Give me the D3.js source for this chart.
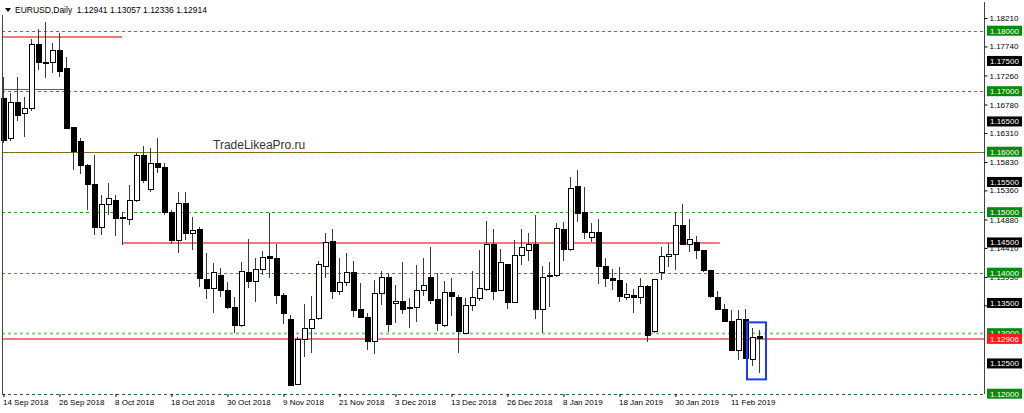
<!DOCTYPE html>
<html>
<head>
<meta charset="utf-8">
<script src="https://cdn.jsdelivr.net/npm/d3@7"></script>
<style>
  html, body { margin: 0; padding: 0; background: #fff; }
  svg { display: block; }
  text { font-family: "Liberation Sans", Arial, sans-serif; }
</style>
</head>
<body>
<svg id="chart" width="1024" height="413"></svg>
<script>
// EURUSD daily bars, 14 Sep 2018 .. 15 Feb 2019
var opens = [
  1.1688, 1.1622, 1.1682, 1.1663, 1.1671, 1.1778, 1.1748, 1.1748, 1.1767, 1.1737,
  1.1640, 1.1617, 1.1578, 1.1546, 1.1475, 1.1513, 1.1520, 1.1490, 1.1488, 1.1519,
  1.1593, 1.1538, 1.1580, 1.1574, 1.1499, 1.1453, 1.1515, 1.1464, 1.1471, 1.1389,
  1.1374, 1.1396, 1.1371, 1.1343, 1.1312, 1.1400, 1.1385, 1.1406, 1.1427, 1.1424,
  1.1362, 1.1323, 1.1216, 1.1289, 1.1308, 1.1325, 1.1411, 1.1451, 1.1369, 1.1383,
  1.1400, 1.1340, 1.1326, 1.1286, 1.1365, 1.1392, 1.1349, 1.1353, 1.1342, 1.1342,
  1.1370, 1.1392, 1.1356, 1.1312, 1.1367, 1.1359, 1.1300, 1.1345, 1.1358, 1.1373,
  1.1446, 1.1370, 1.1413, 1.1351, 1.1428, 1.1436, 1.1446, 1.1340, 1.1393, 1.1395,
  1.1472, 1.1439, 1.1542, 1.1499, 1.1458, 1.1467, 1.1411, 1.1390, 1.1387, 1.1359,
  1.1363, 1.1359, 1.1378, 1.1302, 1.1400, 1.1426, 1.1430, 1.1478, 1.1446, 1.1450,
  1.1436, 1.1403, 1.1359, 1.1340, 1.1320, 1.1272, 1.1322, 1.1257, 1.12941
];
var highs = [
  1.1724, 1.1697, 1.1724, 1.1691, 1.1786, 1.1803, 1.1815, 1.1780, 1.1796, 1.1757,
  1.1641, 1.1623, 1.1580, 1.1595, 1.1528, 1.1548, 1.1528, 1.1501, 1.1545, 1.1598,
  1.1609, 1.1606, 1.1622, 1.1581, 1.1504, 1.1534, 1.1534, 1.1492, 1.1475, 1.1433,
  1.1416, 1.1407, 1.1385, 1.1360, 1.1418, 1.1455, 1.1424, 1.1436, 1.1499, 1.1447,
  1.1367, 1.1330, 1.1293, 1.1348, 1.1362, 1.1419, 1.1465, 1.1472, 1.1424, 1.1433,
  1.1420, 1.1383, 1.1334, 1.1388, 1.1402, 1.1400, 1.1380, 1.1418, 1.1359, 1.1413,
  1.1424, 1.1442, 1.1399, 1.1387, 1.1392, 1.1363, 1.1358, 1.1402, 1.1438, 1.1486,
  1.1473, 1.1439, 1.1415, 1.1454, 1.1472, 1.1465, 1.1495, 1.1411, 1.1418, 1.1482,
  1.1484, 1.1559, 1.1570, 1.1541, 1.1482, 1.1488, 1.1424, 1.1406, 1.1409, 1.1383,
  1.1373, 1.1392, 1.1380, 1.1390, 1.1443, 1.1449, 1.1501, 1.1513, 1.1489, 1.1460,
  1.1437, 1.1404, 1.1369, 1.1349, 1.1338, 1.1338, 1.1340, 1.1308, 1.13057
];
var lows = [
  1.1615, 1.1617, 1.1650, 1.1625, 1.1668, 1.1735, 1.1722, 1.1730, 1.1724, 1.1637,
  1.1569, 1.1563, 1.1504, 1.1462, 1.1462, 1.1495, 1.1460, 1.1446, 1.1479, 1.1517,
  1.1548, 1.1534, 1.1565, 1.1495, 1.1447, 1.1432, 1.1454, 1.1438, 1.1377, 1.1356,
  1.1334, 1.1360, 1.1340, 1.1300, 1.1311, 1.1374, 1.1352, 1.1396, 1.1392, 1.1349,
  1.1315, 1.1213, 1.1214, 1.1261, 1.1268, 1.1322, 1.1392, 1.1356, 1.1363, 1.1378,
  1.1326, 1.1325, 1.1273, 1.1266, 1.1347, 1.1302, 1.1317, 1.1331, 1.1308, 1.1319,
  1.1362, 1.1349, 1.1304, 1.1311, 1.1328, 1.1268, 1.1299, 1.1336, 1.1354, 1.1370,
  1.1355, 1.1369, 1.1340, 1.1350, 1.1413, 1.1420, 1.1323, 1.1301, 1.1343, 1.1393,
  1.1420, 1.1436, 1.1483, 1.1455, 1.1450, 1.1381, 1.1377, 1.1371, 1.1352, 1.1355,
  1.1334, 1.1349, 1.1286, 1.1300, 1.1388, 1.1410, 1.1404, 1.1446, 1.1434, 1.1423,
  1.1401, 1.1359, 1.1338, 1.1319, 1.1271, 1.1256, 1.1257, 1.1246, 1.12336
];
var closes = [
  1.1619, 1.1682, 1.1660, 1.1672, 1.1778, 1.1748, 1.1745, 1.1767, 1.1733, 1.1639,
  1.1600, 1.1577, 1.1545, 1.1475, 1.1513, 1.1522, 1.1489, 1.1491, 1.1520, 1.1593,
  1.1553, 1.1580, 1.1574, 1.1499, 1.1453, 1.1514, 1.1464, 1.1469, 1.1391, 1.1374,
  1.1400, 1.1371, 1.1343, 1.1312, 1.1402, 1.1385, 1.1406, 1.1425, 1.1424, 1.1362,
  1.1333, 1.1214, 1.1289, 1.1308, 1.1323, 1.1413, 1.1450, 1.1369, 1.1383, 1.1400,
  1.1337, 1.1326, 1.1286, 1.1366, 1.1392, 1.1315, 1.1353, 1.1340, 1.1341, 1.1371,
  1.1379, 1.1354, 1.1316, 1.1368, 1.1360, 1.1302, 1.1345, 1.1359, 1.1374, 1.1446,
  1.1369, 1.1417, 1.1350, 1.1428, 1.1442, 1.1446, 1.1340, 1.1392, 1.1395, 1.1473,
  1.1439, 1.1540, 1.1498, 1.1466, 1.1467, 1.1411, 1.1390, 1.1387, 1.1360, 1.1364,
  1.1359, 1.1378, 1.1296, 1.1388, 1.1426, 1.1430, 1.1478, 1.1447, 1.1455, 1.1436,
  1.1404, 1.1360, 1.1340, 1.1320, 1.1272, 1.1323, 1.1259, 1.1293, 1.12914
];

// time axis labels, one every 8 bars
var dateLabels = [
  '14 Sep 2018', '26 Sep 2018', '8 Oct 2018', '18 Oct 2018', '30 Oct 2018',
  '9 Nov 2018', '21 Nov 2018', '3 Dec 2018', '13 Dec 2018', '26 Dec 2018',
  '8 Jan 2019', '18 Jan 2019', '30 Jan 2019', '11 Feb 2019'
];
var labelStep = 8;

// price scale ticks (the ones hidden under the tags are left out)
var priceTicks = [1.18210, 1.17740, 1.17260, 1.16780, 1.16310, 1.15830, 1.15360,
  1.14880, 1.14410, 1.13930, 1.13460];
var gridLevels = [1.18, 1.17, 1.16, 1.15, 1.14, 1.13, 1.12];
var blackLevels = [1.175, 1.165, 1.155, 1.145, 1.135, 1.125];
var bidLevel = 1.12906;

// hand drawn red levels: price, first bar, last bar (null = whole width)
var levelPrices = [1.1789, 1.1704, 1.1600, 1.1449, 1.12906];
var levelFrom   = [0, 0, null, 17, null];
var levelTo     = [17, 9, null, 102.4, null];

var titleText = 'EURUSD,Daily  1.12941 1.13057 1.12336 1.12914';
var watermark = 'TradeLikeaPro.ru';

var left = 2, right = 984, bottom = 394;
var svg = d3.select('#chart');

var x = d3.scaleLinear().domain([0, 108]).range([3, 759]);
var y = d3.scaleLinear().domain([1.12, 1.18]).range([393.7, 30.7]);

var bars = opens.map(function (o, i) {
    return { i: i, o: o, h: highs[i], l: lows[i], c: closes[i] };
});

var plot = svg.append('g');

// grid levels (green dashed)
plot.selectAll('.grid').data(gridLevels).enter().append('line')
    .attr('class', 'grid')
    .attr('x1', left).attr('x2', right)
    .attr('y1', function (d) { return Math.round(y(d)) + 0.5; })
    .attr('y2', function (d) { return Math.round(y(d)) + 0.5; })
    .attr('stroke', function (d) {
        if (d === 1.13) return '#86cc86';
        if (d === 1.12) return '#1f6b1f';
        return '#10b010';
    })
    .attr('stroke-width', function (d) { return d === 1.13 ? 2 : 1; })
    .attr('stroke-dasharray', '3,3');

// red levels
levelPrices.forEach(function (p, k) {
    var x1 = levelFrom[k] === null ? left : x(levelFrom[k]);
    var x2 = levelTo[k] === null ? right : x(levelTo[k]);
    var wide = (k === 0 || k === 3 || k === 4);
    var yy = Math.round(y(p)) + (wide ? 0 : 0.5);
    plot.append('line')
        .attr('x1', x1).attr('x2', x2)
        .attr('y1', yy).attr('y2', yy)
        .attr('stroke', wide ? '#f07a7a' : '#ff2020')
        .attr('stroke-width', wide ? 2 : 1);
});
// the 1.16 level carries the green dashes over the red line
plot.append('line')
    .attr('x1', left).attr('x2', right)
    .attr('y1', Math.round(y(1.16)) + 0.5).attr('y2', Math.round(y(1.16)) + 0.5)
    .attr('stroke', '#10b010').attr('stroke-dasharray', '3,3');

// watermark
svg.append('text')
    .attr('x', 213).attr('y', 148.5)
    .attr('font-family', '"Open Sans", sans-serif')
    .attr('font-size', 12)
    .attr('fill', '#333')
    .text(watermark);

// candles
var candle = plot.selectAll('.bar').data(bars).enter().append('g')
    .attr('class', 'bar')
    .attr('shape-rendering', 'crispEdges');

candle.append('line')
    .attr('x1', function (d) { return x(d.i) + 0.5; })
    .attr('x2', function (d) { return x(d.i) + 0.5; })
    .attr('y1', function (d) { return y(d.h); })
    .attr('y2', function (d) { return y(d.l); })
    .attr('stroke', '#3a3a3a');

candle.append('rect')
    .attr('x', function (d) { return x(d.i) - 2; })
    .attr('width', 5)
    .attr('y', function (d) { return y(Math.max(d.o, d.c)); })
    .attr('height', function (d) { return Math.max(1, Math.abs(y(d.o) - y(d.c))); })
    .attr('fill', function (d) { return d.c >= d.o ? '#fff' : '#000'; })
    .attr('stroke', '#000')
    .attr('stroke-width', 1);

// current bar highlight box
var last = bars.slice(-2);
var boxTop = y(d3.max(last, function (d) { return d.h; })) - 6;
var boxBottom = y(d3.min(last, function (d) { return d.l; })) + 6;
svg.append('rect')
    .attr('x', x(last[0].i) - 5)
    .attr('y', boxTop)
    .attr('width', x(last[1].i) - x(last[0].i) + 12)
    .attr('height', boxBottom - boxTop)
    .attr('fill', 'none')
    .attr('stroke', '#1a3cff')
    .attr('stroke-width', 2);

// frame
svg.append('line').attr('x1', left + 0.5).attr('x2', left + 0.5)
    .attr('y1', 15).attr('y2', bottom).attr('stroke', '#444');
svg.append('line').attr('x1', right + 0.5).attr('x2', right + 0.5)
    .attr('y1', 2).attr('y2', bottom).attr('stroke', '#444');

// price axis
var yAxis = d3.axisRight(y)
    .tickValues(priceTicks)
    .tickSize(3)
    .tickPadding(2)
    .tickFormat(d3.format('.5f'));
var ya = svg.append('g')
    .attr('transform', 'translate(' + (right + 0.5) + ',0)')
    .call(yAxis);
ya.select('.domain').remove();
ya.selectAll('text').attr('font-size', 8).attr('fill', '#000')
    .attr('font-family', '"Liberation Sans", Arial, sans-serif');
ya.selectAll('line').attr('stroke', '#000');

function priceTag(p, bg) {
    var g = svg.append('g').attr('transform', 'translate(' + (right + 3) + ',' + y(p) + ')');
    g.append('rect').attr('x', 0).attr('y', -5).attr('width', 35).attr('height', 10)
        .attr('fill', bg);
    g.append('text').attr('x', 3).attr('y', 3)
        .attr('font-size', 8).attr('fill', '#fff')
        .text(d3.format('.5f')(p));
}
gridLevels.forEach(function (p) { priceTag(p, '#0a8a0a'); });
blackLevels.forEach(function (p) { priceTag(p, '#000'); });
priceTag(bidLevel, '#ff1a1a');

// time axis
var tickIdx = dateLabels.map(function (d, k) { return k * labelStep; });
var xAxis = d3.axisBottom(x)
    .tickValues(tickIdx)
    .tickSize(3)
    .tickPadding(2)
    .tickFormat(function (d) { return dateLabels[d / labelStep]; });
var xa = svg.append('g')
    .attr('transform', 'translate(0.5,' + bottom + ')')
    .call(xAxis);
xa.select('.domain').remove();
xa.selectAll('line').attr('stroke', '#000');
xa.selectAll('text').attr('font-size', 8).attr('fill', '#000')
    .attr('text-anchor', 'start').attr('x', -1)
    .attr('font-family', '"Liberation Sans", Arial, sans-serif');

// title
svg.append('path').attr('d', 'M5,8 L11,8 L8,12 Z').attr('fill', '#000');
svg.append('text').attr('x', 15).attr('y', 12.5)
    .attr('font-size', 8.5).attr('fill', '#000')
    .attr('xml:space', 'preserve')
    .style('white-space', 'pre')
    .text(titleText);
</script>
</body>
</html>
